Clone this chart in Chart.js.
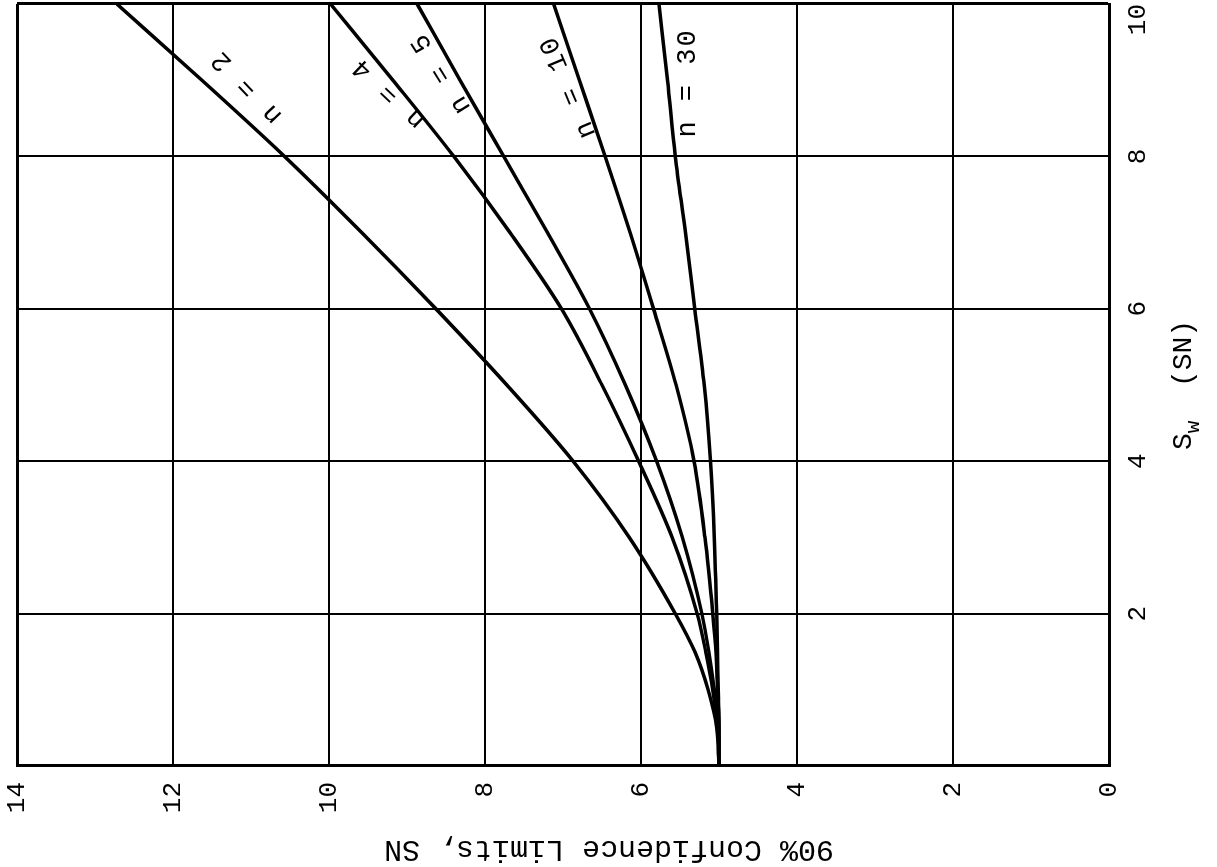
<!DOCTYPE html>
<html>
<head>
<meta charset="utf-8">
<title>90% Confidence Limits</title>
<script src="https://cdn.jsdelivr.net/npm/chart.js@4.4.0/dist/chart.umd.min.js"></script>
<style>
    html, body { margin: 0; padding: 0; background: #fff; }
    body { width: 1217px; height: 867px; overflow: hidden; position: relative; }
    /* the chart is laid out upright, then turned a quarter turn counter-clockwise */
    #wrap {
        position: absolute;
        left: 175px;
        top: -175px;
        width: 867px;
        height: 1217px;
        transform: rotate(-90deg);
        background: #fff;
    }
</style>
</head>
<body>
<div id="wrap"><canvas id="limitsChart"></canvas></div>
<script>
const sw = [0, 0.5, 1, 1.5, 2, 3, 4, 5, 6, 7, 8, 9, 10];

const limitsN2  = [5.00, 5.03, 5.14, 5.31, 5.56, 6.15, 6.87, 7.72, 8.63, 9.58, 10.57, 11.63, 12.72];
const limitsN4  = [5.00, 5.02, 5.08, 5.17, 5.28, 5.60, 6.03, 6.50, 7.02, 7.68, 8.40, 9.18, 9.98];
const limitsN5  = [5.00, 5.01, 5.06, 5.13, 5.22, 5.47, 5.80, 6.20, 6.66, 7.20, 7.76, 8.32, 8.87];
const limitsN10 = [5.00, 5.00, 5.02, 5.04, 5.08, 5.18, 5.32, 5.55, 5.84, 6.14, 6.46, 6.79, 7.12];
const limitsN30 = [5.00, 5.00, 5.01, 5.02, 5.03, 5.06, 5.11, 5.19, 5.31, 5.43, 5.56, 5.66, 5.77];

const seriesNames = ['n = 2', 'n = 4', 'n = 5', 'n = 10', 'n = 30'];
const seriesValues = [limitsN2, limitsN4, limitsN5, limitsN10, limitsN30];

const xTicks = [0, 2, 4, 6, 8, 10];
const yTicks = [0, 2, 4, 6, 8, 10, 12, 14];

const xTitle = ['S', 'w', '  (SN)'];
const yTitle = '90% Confidence Limits, SN';

// where each curve is tagged, in data units, and the slant of the tag
const curveTags = [
    { at: [8.90, 11.05], angle: -43.5 },
    { at: [8.82, 9.23], angle: -46.5 },
    { at: [9.08, 8.56], angle: -32 },
    { at: [8.90, 6.93], angle: -22.7 },
    { at: [8.95, 5.40], angle: 0 }
];

const FONT = '"Liberation Mono", "Courier New", monospace';

const annotate = {
    id: 'annotate',
    afterDatasetsDraw(chart) {
        const { ctx, chartArea, scales: { x, y } } = chart;
        ctx.save();
        ctx.fillStyle = '#000';
        ctx.textAlign = 'center';
        ctx.textBaseline = 'middle';

        // curve tags, slightly spread like typewriter text
        ctx.font = '27px ' + FONT;
        if ('letterSpacing' in ctx) ctx.letterSpacing = '2px';
        seriesNames.forEach((name, i) => {
            const tag = curveTags[i];
            ctx.save();
            ctx.translate(x.getPixelForValue(tag.at[0]), y.getPixelForValue(tag.at[1]));
            ctx.rotate(tag.angle * Math.PI / 180);
            ctx.fillText(name, 1, 0);
            ctx.restore();
        });
        if ('letterSpacing' in ctx) ctx.letterSpacing = '0px';

        // x axis title, S with subscript w
        const big = '28px ' + FONT;
        const small = '21px ' + FONT;
        ctx.textAlign = 'left';
        ctx.font = big;
        const wS = ctx.measureText(xTitle[0]).width;
        const wRest = ctx.measureText(xTitle[2]).width;
        ctx.font = small;
        const wSub = ctx.measureText(xTitle[1]).width;
        const cx = (chartArea.left + chartArea.right) / 2;
        const ty = chart.height - 33;
        let px = cx - (wS + wSub + wRest) / 2;
        ctx.font = big;
        ctx.fillText(xTitle[0], px, ty);
        px += wS;
        ctx.font = small;
        ctx.fillText(xTitle[1], px, ty + 9);
        px += wSub;
        ctx.font = big;
        ctx.fillText(xTitle[2], px, ty);

        // y axis title
        ctx.textAlign = 'center';
        ctx.font = '30px ' + FONT;
        ctx.translate(18, (chartArea.top + chartArea.bottom) / 2 + 46);
        ctx.rotate(-Math.PI / 2);
        ctx.fillText(yTitle, 0, 0);
        ctx.restore();
    }
};

const datasets = seriesNames.map((name, i) => ({
    label: name,
    data: sw.map((v, k) => ({ x: v, y: seriesValues[i][k] })),
    borderColor: '#000',
    borderWidth: 3.5,
    pointRadius: 0,
    fill: false,
    cubicInterpolationMode: 'monotone'
}));

const edgeWidth = (edge) => (ctx) => (ctx.tick && ctx.tick.value === edge ? 3 : 2);

new Chart(document.getElementById('limitsChart'), {
    type: 'line',
    data: { datasets },
    options: {
        responsive: true,
        maintainAspectRatio: false,
        animation: false,
        devicePixelRatio: 1,
        layout: { padding: { top: 17, right: 4, left: 0, bottom: 0 } },
        plugins: {
            legend: { display: false },
            tooltip: { enabled: false }
        },
        scales: {
            x: {
                type: 'linear',
                min: 0,
                max: 10,
                afterBuildTicks: (scale) => { scale.ticks = xTicks.map(v => ({ value: v })); },
                afterFit: (scale) => { scale.height = 108; },
                grid: {
                    color: '#000',
                    lineWidth: edgeWidth(10),
                    tickLength: 14,
                    tickColor: 'rgba(0,0,0,0)'
                },
                border: { color: '#000', width: 3 },
                ticks: {
                    color: '#000',
                    padding: 0,
                    align: 'inner',
                    maxRotation: 0,
                    font: { family: FONT, size: 26 },
                    callback: (v) => (v === 0 ? '' : v)
                }
            },
            y: {
                type: 'linear',
                min: 0,
                max: 14,
                afterBuildTicks: (scale) => { scale.ticks = yTicks.map(v => ({ value: v })); },
                afterFit: (scale) => { scale.width = 101; },
                grid: {
                    color: '#000',
                    lineWidth: edgeWidth(14),
                    tickLength: 16,
                    tickColor: 'rgba(0,0,0,0)'
                },
                border: { color: '#000', width: 3 },
                ticks: {
                    color: '#000',
                    padding: 0,
                    font: { family: FONT, size: 26 }
                }
            }
        }
    },
    plugins: [annotate]
});
</script>
</body>
</html>
